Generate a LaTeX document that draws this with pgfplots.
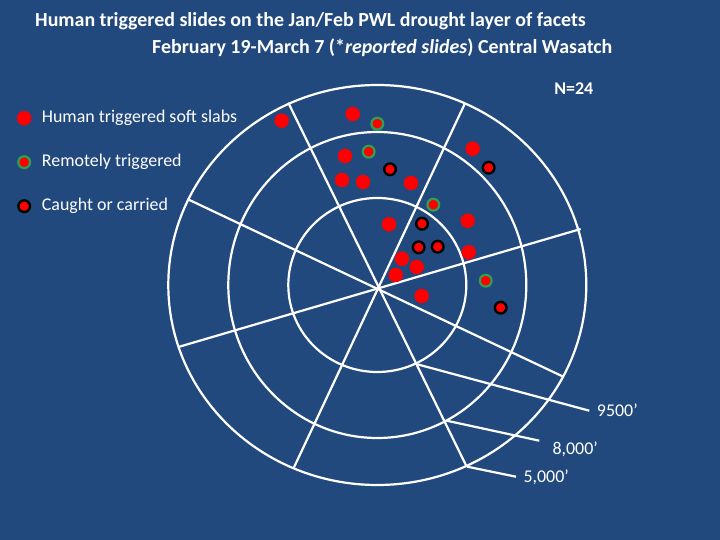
\documentclass[border=0pt]{standalone}
\usepackage{pgfplots}
\pgfplotsset{compat=1.18}
\usepackage{pgfplotstable}
\usepackage{fontspec}
\setmainfont{Carlito}

\definecolor{slidebg}{RGB}{33,73,126}
\definecolor{ringgreen}{RGB}{46,160,84}

% slide pixel positions (x right, y down)
\pgfplotstableread{
x y
281.7 120.7
352.7 114.0
345.0 156.0
342.0 180.0
363.0 182.0
411.0 183.0
472.7 148.7
389.0 224.3
467.7 220.7
468.7 252.3
402.0 258.7
416.7 267.0
395.7 275.0
421.7 296.0
}\softslabs

\pgfplotstableread{
x y
377.3 123.7
368.7 151.7
433.3 204.7
485.7 280.7
}\remote

\pgfplotstableread{
x y
390.0 169.3
488.7 167.7
422.0 223.7
418.7 247.3
437.7 246.7
500.7 307.7
}\caught

\begin{document}
\begin{tikzpicture}
\begin{axis}[
  x=1bp, y=1bp,
  xmin=0, xmax=720, ymin=0, ymax=540,
  y dir=reverse,
  hide axis, clip=false,
  legend image code/.code={\draw[#1] plot coordinates {(0bp,0bp)};},
  legend cell align=left,
  legend style={draw=none, fill=none, text=white,
    font=\fontsize{18}{21.6}\selectfont,
    at={(axis cs:17,110)}, anchor=north west,
    inner sep=0pt, row sep=28bp,
    nodes={inner sep=0pt, text height=12bp, text depth=4bp},
    /tikz/every odd column/.append style={column sep=10.7bp}},
]
\fill[slidebg] (axis cs:0,0) rectangle (axis cs:720,540);

% elevation rings and aspect spokes
\begin{scope}[white, line width=2.2bp]
\draw (axis cs:377.3,285) ellipse [x radius=209bp, y radius=200bp];
\draw (axis cs:377.3,285) ellipse [x radius=149bp, y radius=153bp];
\draw (axis cs:377.3,285) ellipse [x radius=89bp, y radius=87bp];
\draw (axis cs:580.7,229) -- (axis cs:179.3,346.7);
\draw (axis cs:465,103.3) -- (axis cs:294,467.3);
\draw (axis cs:288.3,102.7) -- (axis cs:466.7,466.7);
\draw (axis cs:187.3,199) -- (axis cs:563.3,376.7);
\draw (axis cs:417.3,364.3) -- (axis cs:589.3,410.7);
\draw (axis cs:446.7,420.7) -- (axis cs:539.3,440.7);
\draw (axis cs:467.3,466.7) -- (axis cs:516,476.7);
\end{scope}

\addplot[only marks, mark=*, mark size=7bp, mark options={fill=red, draw=red}]
  table {\softslabs};
\addlegendentry{Human triggered soft slabs}
\addplot[only marks, mark=*, mark size=5.9bp,
  mark options={fill=red, draw=ringgreen, line width=2.2bp}]
  table {\remote};
\addlegendentry{Remotely triggered}
\addplot[only marks, mark=*, mark size=5.8bp,
  mark options={fill=red, draw=black, line width=2.4bp}]
  table {\caught};
\addlegendentry{Caught or carried}

\begin{scope}[text=white, inner sep=0pt]
\node[anchor=base west, font=\bfseries\fontsize{20}{24}\selectfont]
  at (axis cs:35,27) {Human triggered slides on the Jan/Feb PWL drought layer of facets};
\node[anchor=base west, font=\bfseries\fontsize{20}{24}\selectfont]
  at (axis cs:152,54) {February 19-March 7 (*\textit{reported slides}) Central Wasatch};
\node[font=\bfseries\fontsize{18}{21.6}\selectfont] at (axis cs:573.8,89) {N=24};
\node[anchor=base west, font=\fontsize{18}{21.6}\selectfont] at (axis cs:596.7,416.7) {9500’};
\node[anchor=base west, font=\fontsize{18}{21.6}\selectfont] at (axis cs:552.3,454) {8,000’};
\node[anchor=base west, font=\fontsize{18}{21.6}\selectfont] at (axis cs:523.3,482.7) {5,000’};
\end{scope}
\end{axis}
\end{tikzpicture}
\end{document}
